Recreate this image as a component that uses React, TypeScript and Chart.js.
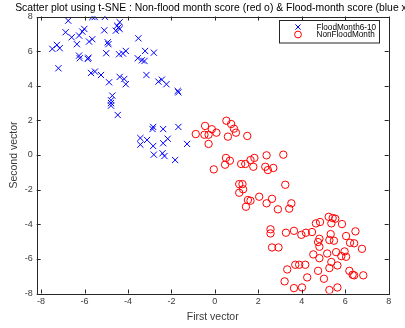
import React, { useEffect, useRef } from "react";
import { Chart, registerables } from "chart.js";

Chart.register(...registerables);

// t-SNE embedding of flood months (June–October)
const floodX = [
  -6.75, -5.64, -5.53, -5.06, -4.38, -4.5, -4.44, -4.56, -4.38, -5.09, -6.87, -6.59,
  -6.25, -6.1, -6.01, -6.35, -5.79, -5.64, -4.93, -4.9, -3.52, -7.48, -7.27, -7.14,
  -5.0, -4.41, -4.23, -4.1, -3.21, -2.81, -6.25, -6.22, -5.85, -5.82, -3.55, -3.36,
  -3.24, -7.2, -5.7, -5.52, -5.24, -4.38, -4.17, -4.1, -3.15, -4.87, -2.6, -2.44,
  -2.23, -1.71, -1.68, -4.72, -4.78, -4.78, -4.78, -4.47, -2.84, -2.87, -2.38, -1.68,
  -3.43, -3.12, -3.43, -2.84, -2.38, -2.17, -1.28, -2.81, -2.41, -2.32, -1.83,
];
const floodY = [
  7.76, 7.97, 7.97, 7.98, 7.67, 7.47, 7.36, 7.18, 7.28, 7.2, 7.09, 6.8,
  6.9, 7.13, 7.28, 6.4, 6.55, 6.69, 6.51, 6.4, 6.74, 6.13, 6.36, 6.17,
  5.88, 5.82, 5.86, 6.01, 6.01, 5.91, 5.74, 5.59, 5.55, 5.62, 5.59, 5.47,
  5.43, 5.01, 4.74, 4.82, 4.62, 4.51, 4.39, 4.09, 4.62, 4.2, 4.24, 4.35,
  4.09, 3.7, 3.62, 3.43, 3.16, 3.0, 2.85, 2.31, 1.62, 1.5, 1.5, 1.62,
  0.98, 0.87, 0.6, 0.52, 0.68, 0.94, 0.64, 0.02, 0.1, -0.06, -0.29,
];

// t-SNE embedding of the remaining months
const nonFloodX = [
  -0.88, -0.45, -0.48, -0.29, -0.29, -0.14, 0.07, 0.53, 0.75, 0.88, 0.97, 0.6,
  1.49, 0.51, 0.69, 0.47, -0.05, 1.21, 1.4, 1.64, 1.82, 1.77, 2.38, 3.15,
  2.32, 2.44, 2.69, 1.12, 1.27, 1.3, 1.12, 3.24, 1.52, 1.64, 1.43, 2.04,
  2.63, 2.38, 2.9, 3.52, 3.42, 5.24, 5.42, 5.54, 4.65, 4.84, 5.36, 5.85,
  2.56, 2.56, 3.27, 3.64, 3.98, 4.19, 4.47, 5.33, 6.04, 6.47, 4.81, 4.75,
  4.81, 5.27, 5.48, 6.22, 6.41, 2.63, 2.93, 6.77, 4.53, 5.17, 5.58, 5.97,
  5.82, 6.04, 4.81, 5.36, 5.27, 5.64, 3.7, 3.88, 4.16, 3.33, 4.75, 6.19,
  6.34, 6.41, 6.83, 4.25, 5.02, 3.21, 3.64, 4.01, 5.27, 5.64,
];
const nonFloodY = [
  1.21, 1.68, 1.17, 1.17, 0.64, 1.49, 1.29, 1.98, 1.79, 1.52, 1.29, 1.06,
  1.1, -0.17, -0.33, -0.56, -0.83, -0.52, -0.52, -0.29, -0.17, -0.68, -0.02, 0.02,
  -0.68, -0.87, -0.75, -1.68, -1.68, -1.98, -2.18, -1.72, -2.6, -2.64, -2.99, -2.41,
  -2.53, -2.79, -3.14, -2.79, -3.1, -3.57, -3.64, -3.68, -3.95, -3.87, -3.95, -3.99,
  -4.29, -4.53, -4.49, -4.38, -4.61, -4.49, -4.45, -4.57, -4.68, -4.41, -4.84, -5.03,
  -5.3, -4.91, -4.95, -5.07, -5.1, -5.34, -5.34, -5.42, -5.74, -5.69, -5.61, -5.57,
  -5.84, -5.88, -5.96, -6.18, -6.53, -6.38, -6.34, -6.34, -6.34, -6.61, -6.69, -6.69,
  -6.92, -6.95, -6.95, -7.07, -7.15, -7.3, -7.69, -7.65, -7.8, -7.65,
];

const xTicks = [-8, -6, -4, -2, 0, 2, 4, 6, 8];
const yTicks = [-8, -6, -4, -2, 0, 2, 4, 6, 8];
const seriesLabels = ["FloodMonth6-10", "NonFloodMonth"];
const titleText =
  "Scatter plot using t-SNE : Non-flood month score (red o) & Flood-month score (blue x)";
const xLabel = "First vector";
const yLabel = "Second vector";

const FONT = "'Liberation Sans', Arial, sans-serif";
const AXIS_COLOR = "#262626";
const BLUE = "rgb(0,0,255)";
const RED = "rgb(255,0,0)";

function drawCross(ctx: CanvasRenderingContext2D, x: number, y: number, h: number) {
  ctx.beginPath();
  ctx.moveTo(x - h, y - h);
  ctx.lineTo(x + h, y + h);
  ctx.moveTo(x - h, y + h);
  ctx.lineTo(x + h, y - h);
  ctx.stroke();
}

// Box around the axes with inward tick marks on all four sides
const axesBox = {
  id: "axesBox",
  afterDatasetsDraw(chart: any) {
    const { ctx, chartArea: a, scales } = chart;
    ctx.save();
    ctx.strokeStyle = AXIS_COLOR;
    ctx.lineWidth = 1;
    ctx.strokeRect(Math.round(a.left) + 0.5, Math.round(a.top) + 0.5, Math.round(a.right - a.left), Math.round(a.bottom - a.top));
    const len = 4;
    ctx.beginPath();
    for (const v of xTicks) {
      const px = Math.round(scales.x.getPixelForValue(v)) + 0.5;
      ctx.moveTo(px, a.bottom);
      ctx.lineTo(px, a.bottom - len);
      ctx.moveTo(px, a.top);
      ctx.lineTo(px, a.top + len);
    }
    for (const v of yTicks) {
      const py = Math.round(scales.y.getPixelForValue(v)) + 0.5;
      ctx.moveTo(a.left, py);
      ctx.lineTo(a.left + len, py);
      ctx.moveTo(a.right, py);
      ctx.lineTo(a.right - len, py);
    }
    ctx.stroke();
    ctx.restore();
  },
};

// Framed legend in the upper-right corner of the axes
const boxedLegend = {
  id: "boxedLegend",
  afterDatasetsDraw(chart: any) {
    const { ctx, chartArea: a } = chart;
    const w = 100;
    const h = 22.5;
    const left = Math.round(a.right - 10 - w);
    const top = Math.round(a.top + 3.5);
    ctx.save();
    ctx.fillStyle = "#ffffff";
    ctx.fillRect(left, top, w, h);
    ctx.strokeStyle = AXIS_COLOR;
    ctx.lineWidth = 1;
    ctx.strokeRect(left + 0.5, top + 0.5, w, h);
    ctx.font = `8.2px ${FONT}`;
    ctx.textBaseline = "middle";
    ctx.textAlign = "left";
    chart.data.datasets.forEach((ds: any, i: number) => {
      const cy = top + 7 + i * 7.5;
      const mx = left + 19;
      ctx.lineWidth = 1;
      ctx.strokeStyle = ds.borderColor;
      if (ds.pointStyle === "crossRot") {
        drawCross(ctx, mx, cy, 2.6);
      } else {
        ctx.beginPath();
        ctx.arc(mx, cy, 3.4, 0, Math.PI * 2);
        ctx.stroke();
      }
      ctx.fillStyle = "#000000";
      ctx.fillText(ds.label, left + 37.5, cy + 0.5);
    });
    ctx.restore();
  },
};

// Title centred over the axes
const axesTitle = {
  id: "axesTitle",
  afterDraw(chart: any) {
    const { ctx, chartArea: a } = chart;
    ctx.save();
    ctx.font = `10.4px ${FONT}`;
    ctx.fillStyle = "#000000";
    ctx.textAlign = "center";
    ctx.textBaseline = "middle";
    ctx.fillText(titleText, (a.left + a.right) / 2, 8.5);
    ctx.restore();
  },
};

export default function App() {
  const canvasRef = useRef<HTMLCanvasElement | null>(null);

  useEffect(() => {
    if (!canvasRef.current) return;
    const chart = new Chart(canvasRef.current, {
      type: "scatter",
      data: {
        datasets: [
          {
            label: seriesLabels[0],
            data: floodX.map((x, i) => ({ x, y: floodY[i] })),
            pointStyle: "crossRot",
            pointRadius: 4.4,
            borderColor: BLUE,
            backgroundColor: BLUE,
            borderWidth: 1,
          },
          {
            label: seriesLabels[1],
            data: nonFloodX.map((x, i) => ({ x, y: nonFloodY[i] })),
            pointStyle: "circle",
            pointRadius: 3.7,
            borderColor: RED,
            backgroundColor: "rgba(0,0,0,0)",
            borderWidth: 1,
          },
        ],
      },
      options: {
        responsive: false,
        animation: false,
        devicePixelRatio: 1,
        layout: { padding: { left: 0, right: 16.3, top: 16.5, bottom: 0 } },
        plugins: {
          legend: { display: false },
          title: { display: false },
          tooltip: { enabled: false },
        },
        scales: {
          x: {
            type: "linear",
            min: -8.2,
            max: 8,
            afterBuildTicks: (scale: any) => {
              scale.ticks = xTicks.map((v) => ({ value: v }));
            },
            afterFit: (scale: any) => {
              scale.height = 34.5;
            },
            grid: { display: false, drawTicks: false },
            border: { display: false },
            ticks: {
              padding: 3,
              color: "#3a3a3a",
              font: { family: FONT, size: 9 },
              maxRotation: 0,
              autoSkip: false,
            },
            title: {
              display: true,
              text: xLabel,
              color: "#3a3a3a",
              font: { family: FONT, size: 10.5 },
              padding: { top: 0, bottom: 5 },
            },
          },
          y: {
            type: "linear",
            min: -8,
            max: 8,
            afterBuildTicks: (scale: any) => {
              scale.ticks = yTicks.map((v) => ({ value: v }));
            },
            afterFit: (scale: any) => {
              scale.width = 36.7;
            },
            grid: { display: false, drawTicks: false },
            border: { display: false },
            ticks: {
              padding: 4,
              color: "#3a3a3a",
              font: { family: FONT, size: 9 },
              autoSkip: false,
            },
            title: {
              display: true,
              text: yLabel,
              color: "#3a3a3a",
              font: { family: FONT, size: 10.5 },
              padding: { top: 7.5, bottom: 0 },
            },
          },
        },
      },
      plugins: [axesBox, boxedLegend, axesTitle],
    });
    return () => chart.destroy();
  }, []);

  return (
    <div style={{ position: "fixed", left: 0, top: 0, width: 405, height: 328, background: "#ffffff" }}>
      <canvas ref={canvasRef} width={405} height={328} style={{ display: "block" }} />
    </div>
  );
}
